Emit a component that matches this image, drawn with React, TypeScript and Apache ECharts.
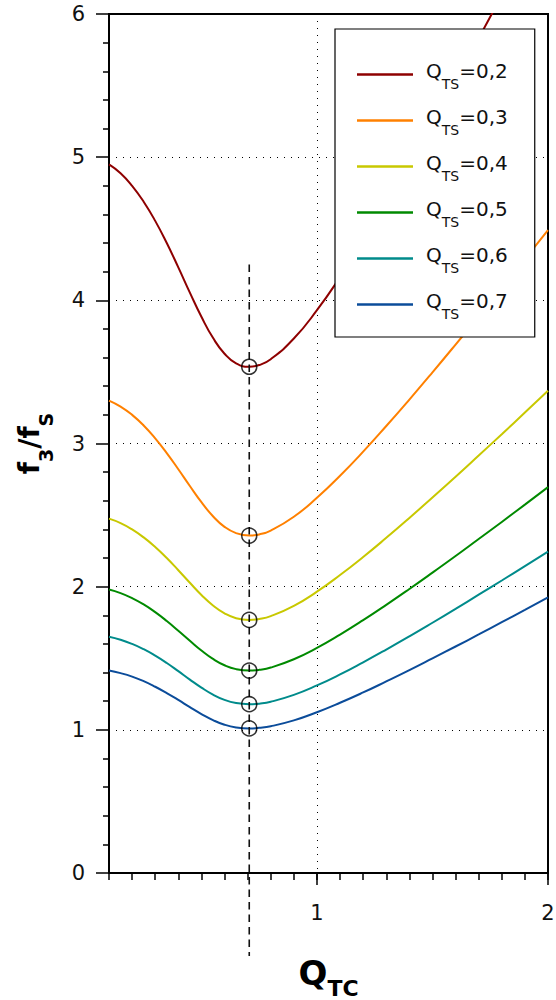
import React, { useEffect, useRef } from 'react';
import * as echarts from 'echarts';

// Q_TC sample positions
const xValues = [0.1, 0.15, 0.2, 0.25, 0.3, 0.35, 0.4, 0.45, 0.5, 0.55, 0.6, 0.65, 0.707, 0.75, 0.8, 0.9, 1.0, 1.1, 1.2, 1.3, 1.4, 1.5, 1.6, 1.7, 1.8, 1.9, 2.0];

// f3/fS values, one array per Q_TS curve
const qts02 = [4.950, 4.888, 4.800, 4.689, 4.555, 4.400, 4.230, 4.054, 3.885, 3.738, 3.627, 3.560, 3.536, 3.548, 3.589, 3.733, 3.931, 4.162, 4.415, 4.682, 4.960, 5.245, 5.536, 5.831, 6.130, 6.432, 6.736];
const qts03 = [3.300, 3.258, 3.200, 3.126, 3.036, 2.933, 2.820, 2.703, 2.590, 2.492, 2.418, 2.374, 2.357, 2.365, 2.392, 2.488, 2.621, 2.775, 2.943, 3.122, 3.307, 3.497, 3.691, 3.888, 4.087, 4.288, 4.491];
const qts04 = [2.475, 2.444, 2.400, 2.344, 2.277, 2.200, 2.115, 2.027, 1.942, 1.869, 1.814, 1.780, 1.768, 1.774, 1.794, 1.866, 1.965, 2.081, 2.207, 2.341, 2.480, 2.623, 2.768, 2.916, 3.065, 3.216, 3.368];
const qts05 = [1.980, 1.955, 1.920, 1.876, 1.822, 1.760, 1.692, 1.622, 1.554, 1.495, 1.451, 1.424, 1.414, 1.419, 1.435, 1.493, 1.572, 1.665, 1.766, 1.873, 1.984, 2.098, 2.214, 2.333, 2.452, 2.573, 2.695];
const qts06 = [1.650, 1.629, 1.600, 1.563, 1.518, 1.467, 1.410, 1.351, 1.295, 1.246, 1.209, 1.187, 1.179, 1.183, 1.196, 1.244, 1.310, 1.387, 1.472, 1.561, 1.653, 1.748, 1.845, 1.944, 2.043, 2.144, 2.245];
const qts07 = [1.414, 1.396, 1.372, 1.340, 1.301, 1.257, 1.209, 1.158, 1.110, 1.068, 1.036, 1.017, 1.010, 1.014, 1.025, 1.066, 1.123, 1.189, 1.261, 1.338, 1.417, 1.499, 1.582, 1.666, 1.752, 1.838, 1.925];

const seriesLabels = ['0,2', '0,3', '0,4', '0,5', '0,6', '0,7'];
const seriesColors = ['#8e0000', '#ff8000', '#c8c800', '#008a00', '#008b8b', '#0b4c9a'];

// circled minima on the dashed Q_TC = 0.707 guide
const markerX = 0.707;
const markerY = [3.536, 2.357, 1.768, 1.414, 1.179, 1.010];
const guideX = 0.707;
const guideTop = 4.25;
const guideBottom = -0.58;

const xMajorTicks = [1, 2];

export default function App() {
  const ref = useRef<HTMLDivElement>(null);

  useEffect(() => {
    if (!ref.current) return;
    const chart = echarts.init(ref.current, null, { renderer: 'svg' });
    const FONT = 'DejaVu Sans';
    const curves = [qts02, qts03, qts04, qts05, qts06, qts07];
    const names = seriesLabels.map((l) => 'QTS=' + l);

    const series: any[] = curves.map((vals, i) => ({
      type: 'line',
      name: names[i],
      xAxisIndex: 0,
      yAxisIndex: 0,
      data: xValues.map((x, j) => [x, vals[j]]),
      smooth: 0.5,
      symbol: 'none',
      showSymbol: false,
      clip: true,
      lineStyle: { color: seriesColors[i], width: 2 },
      itemStyle: { color: seriesColors[i] },
      z: 2,
    }));

    series.push({
      type: 'line',
      name: 'guide',
      xAxisIndex: 0,
      yAxisIndex: 0,
      data: [[guideX, guideTop], [guideX, guideBottom]],
      clip: false,
      symbol: 'none',
      silent: true,
      lineStyle: { color: '#111', width: 1.6, type: [7.5, 5] },
      z: 3,
    });

    series.push({
      type: 'scatter',
      name: 'minima',
      xAxisIndex: 0,
      yAxisIndex: 0,
      data: markerY.map((y) => [markerX, y]),
      symbol: 'circle',
      symbolSize: 15,
      itemStyle: { color: 'rgba(0,0,0,0)', borderColor: '#000', borderWidth: 1.5 },
      z: 4,
    });

    const option: any = {
      animation: false,
      backgroundColor: '#fff',
      grid: {
        left: 109,
        top: 14,
        right: 8,
        bottom: 127,
        show: true,
        borderColor: '#000',
        borderWidth: 2,
        backgroundColor: 'transparent',
        containLabel: false,
        outerBoundsMode: 'none',
      },
      legend: {
        data: names,
        orient: 'vertical',
        left: 335,
        top: 29,
        padding: [29, 27, 16, 22],
        itemGap: 13,
        itemWidth: 56,
        itemHeight: 2.5,
        icon: 'rect',
        backgroundColor: '#fff',
        borderColor: '#000',
        borderWidth: 1.2,
        borderRadius: 0,
        selectedMode: false,
        formatter: (name: string) => `{q|Q}{s|TS}{e|${name.slice(3)}}`,
        textStyle: {
          fontFamily: FONT,
          fontSize: 20,
          color: '#111',
          rich: {
            q: { fontFamily: FONT, fontSize: 20, color: '#111', lineHeight: 24, padding: [0, 0, 7, 8] },
            s: { fontFamily: FONT, fontSize: 14, color: '#111', lineHeight: 24, padding: [19, 0, 0, 0] },
            e: { fontFamily: FONT, fontSize: 20, color: '#111', lineHeight: 24, padding: [0, 0, 7, 0] },
          },
        },
      },
      xAxis: [
        {
          type: 'value',
          position: 'bottom',
          min: 0.1,
          max: 2,
          name: '{q|Q}{s|TC}',
          nameLocation: 'middle',
          nameGap: 80,
          nameTextStyle: {
            rich: {
              q: { fontFamily: FONT, fontSize: 34, fontWeight: 'bold', color: '#000', lineHeight: 40 },
              s: { fontFamily: FONT, fontSize: 22, fontWeight: 'bold', color: '#000', lineHeight: 40, padding: [30, 0, 0, 0] },
            },
          },
          axisLine: { show: true, onZero: false, lineStyle: { color: '#000', width: 2 } },
          axisTick: { show: true, customValues: xMajorTicks, length: 12, lineStyle: { color: '#000', width: 1.5 } },
          axisLabel: { show: false },
          splitLine: { show: true, lineStyle: { color: '#000', width: 1, type: [1, 6] } },
        },
        {
          type: 'value',
          position: 'bottom',
          min: 0.1,
          max: 2,
          interval: 0.1,
          axisLine: { show: false },
          axisTick: { show: true, length: 7, lineStyle: { color: '#000', width: 1.5 } },
          axisLabel: {
            show: true,
            margin: 29,
            fontFamily: FONT,
            fontSize: 21,
            color: '#111',
            showMaxLabel: true,
            formatter: (v: number) => {
              const r = Math.round(v);
              return Math.abs(v - r) < 1e-6 && xMajorTicks.indexOf(r) >= 0 ? String(r) : '';
            },
          },
          splitLine: { show: false },
        },
      ],
      yAxis: {
        type: 'value',
        position: 'left',
        min: 0,
        max: 6,
        interval: 1,
        name: '{f|f}{s|3}{f|/f}{s|S}',
        nameLocation: 'middle',
        nameRotate: 90,
        nameGap: 60,
        nameTextStyle: {
          rich: {
            f: { fontFamily: FONT, fontSize: 28, fontWeight: 'bold', color: '#000', lineHeight: 40 },
            s: { fontFamily: FONT, fontSize: 19, fontWeight: 'bold', color: '#000', lineHeight: 40, padding: [33, 0, 0, 0] },
          },
        },
        axisLine: { show: true, onZero: false, lineStyle: { color: '#000', width: 2 } },
        axisTick: { show: true, length: 13, lineStyle: { color: '#000', width: 1.5 } },
        minorTick: { show: true, splitNumber: 5, length: 6, lineStyle: { color: '#000', width: 1.5 } },
        axisLabel: { margin: 24, fontFamily: FONT, fontSize: 21, color: '#111' },
        splitLine: { show: true, lineStyle: { color: '#000', width: 1, type: [1, 6] } },
      },
      series,
    };

    chart.setOption(option);
    return () => {
      chart.dispose();
    };
  }, []);

  return (
    <div
      ref={ref}
      style={{ position: 'absolute', left: 0, top: 0, width: 556, height: 1000, background: '#fff' }}
    />
  );
}
